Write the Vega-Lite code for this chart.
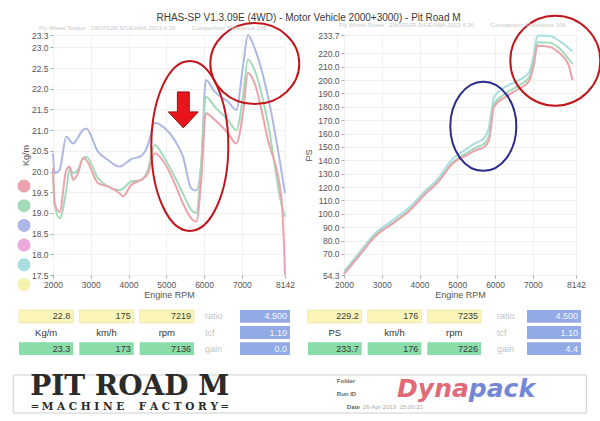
{
  "$schema": "https://vega.github.io/schema/vega-lite/v6.json",
  "background": "white",
  "padding": {"left": 12, "top": 11, "right": 5, "bottom": 3},
  "title": {"text": "RHAS-SP V1.3.09E (4WD) - Motor Vehicle 2000+3000) - Pit Road M", "fontSize": 10, "fontWeight": "normal", "color": "#3a3a3a", "anchor": "middle", "offset": -11},
  "config": {
    "font": "Liberation Sans",
    "view": {"stroke": null},
    "axis": {"labelFontSize": 8.5, "labelColor": "#555555", "labelOverlap": false, "labelFlush": false, "tickCount": 30, "titleFontSize": 9, "titleFontWeight": "normal", "titleColor": "#555555", "domain": false, "tickColor": "#aaaaaa", "tickSize": 3, "labelPadding": 2, "gridColor": "#f0f0f0"}
  },
  "datasets": {
    "torque": [
      {"run": "Run 3", "rpm": 2000, "kgm": 20.44}, {"run": "Run 3", "rpm": 2044, "kgm": 19.96}, {"run": "Run 3", "rpm": 2176, "kgm": 20.04}, {"run": "Run 3", "rpm": 2352, "kgm": 20.84}, {"run": "Run 3", "rpm": 2528, "kgm": 20.68}, {"run": "Run 3", "rpm": 2793, "kgm": 21.0}, {"run": "Run 3", "rpm": 2881, "kgm": 21.04}, {"run": "Run 3", "rpm": 3190, "kgm": 20.48}, {"run": "Run 3", "rpm": 3455, "kgm": 20.28}, {"run": "Run 3", "rpm": 3764, "kgm": 20.12}, {"run": "Run 3", "rpm": 4073, "kgm": 20.3}, {"run": "Run 3", "rpm": 4337, "kgm": 20.38}, {"run": "Run 3", "rpm": 4514, "kgm": 20.64}, {"run": "Run 3", "rpm": 4690, "kgm": 21.18}, {"run": "Run 3", "rpm": 4955, "kgm": 21.05}, {"run": "Run 3", "rpm": 5220, "kgm": 20.76}, {"run": "Run 3", "rpm": 5441, "kgm": 20.36}, {"run": "Run 3", "rpm": 5661, "kgm": 19.59}, {"run": "Run 3", "rpm": 5793, "kgm": 19.54}, {"run": "Run 3", "rpm": 5926, "kgm": 20.2}, {"run": "Run 3", "rpm": 6045, "kgm": 22.21}, {"run": "Run 3", "rpm": 6279, "kgm": 21.93}, {"run": "Run 3", "rpm": 6632, "kgm": 21.69}, {"run": "Run 3", "rpm": 6853, "kgm": 21.49}, {"run": "Run 3", "rpm": 7029, "kgm": 22.54}, {"run": "Run 3", "rpm": 7162, "kgm": 23.3}, {"run": "Run 3", "rpm": 7338, "kgm": 22.98}, {"run": "Run 3", "rpm": 7691, "kgm": 21.81}, {"run": "Run 3", "rpm": 7960, "kgm": 20.5}, {"run": "Run 3", "rpm": 8142, "kgm": 19.48},
      {"run": "Run 2", "rpm": 2000, "kgm": 20.04}, {"run": "Run 2", "rpm": 2044, "kgm": 19.2}, {"run": "Run 2", "rpm": 2176, "kgm": 18.87}, {"run": "Run 2", "rpm": 2352, "kgm": 19.55}, {"run": "Run 2", "rpm": 2440, "kgm": 20.08}, {"run": "Run 2", "rpm": 2528, "kgm": 19.96}, {"run": "Run 2", "rpm": 2660, "kgm": 20.04}, {"run": "Run 2", "rpm": 2793, "kgm": 20.32}, {"run": "Run 2", "rpm": 2881, "kgm": 20.36}, {"run": "Run 2", "rpm": 3190, "kgm": 19.84}, {"run": "Run 2", "rpm": 3455, "kgm": 19.64}, {"run": "Run 2", "rpm": 3764, "kgm": 19.55}, {"run": "Run 2", "rpm": 4073, "kgm": 19.76}, {"run": "Run 2", "rpm": 4337, "kgm": 19.8}, {"run": "Run 2", "rpm": 4514, "kgm": 20.04}, {"run": "Run 2", "rpm": 4690, "kgm": 20.64}, {"run": "Run 2", "rpm": 4955, "kgm": 20.32}, {"run": "Run 2", "rpm": 5220, "kgm": 19.88}, {"run": "Run 2", "rpm": 5441, "kgm": 19.47}, {"run": "Run 2", "rpm": 5661, "kgm": 19.07}, {"run": "Run 2", "rpm": 5793, "kgm": 19.0}, {"run": "Run 2", "rpm": 5926, "kgm": 20.2}, {"run": "Run 2", "rpm": 6045, "kgm": 21.81}, {"run": "Run 2", "rpm": 6279, "kgm": 21.57}, {"run": "Run 2", "rpm": 6632, "kgm": 21.25}, {"run": "Run 2", "rpm": 6853, "kgm": 21.0}, {"run": "Run 2", "rpm": 7029, "kgm": 21.81}, {"run": "Run 2", "rpm": 7162, "kgm": 22.71}, {"run": "Run 2", "rpm": 7338, "kgm": 22.45}, {"run": "Run 2", "rpm": 7691, "kgm": 21.17}, {"run": "Run 2", "rpm": 8043, "kgm": 19.23}, {"run": "Run 2", "rpm": 8142, "kgm": 18.91},
      {"run": "Run 1", "rpm": 2000, "kgm": 20.08}, {"run": "Run 1", "rpm": 2044, "kgm": 19.23}, {"run": "Run 1", "rpm": 2176, "kgm": 19.03}, {"run": "Run 1", "rpm": 2352, "kgm": 20.04}, {"run": "Run 1", "rpm": 2440, "kgm": 20.12}, {"run": "Run 1", "rpm": 2528, "kgm": 19.8}, {"run": "Run 1", "rpm": 2660, "kgm": 19.96}, {"run": "Run 1", "rpm": 2793, "kgm": 20.32}, {"run": "Run 1", "rpm": 2881, "kgm": 20.28}, {"run": "Run 1", "rpm": 3190, "kgm": 19.72}, {"run": "Run 1", "rpm": 3455, "kgm": 19.64}, {"run": "Run 1", "rpm": 3764, "kgm": 19.47}, {"run": "Run 1", "rpm": 3850, "kgm": 19.4}, {"run": "Run 1", "rpm": 4073, "kgm": 19.68}, {"run": "Run 1", "rpm": 4337, "kgm": 19.8}, {"run": "Run 1", "rpm": 4514, "kgm": 19.96}, {"run": "Run 1", "rpm": 4690, "kgm": 20.44}, {"run": "Run 1", "rpm": 4955, "kgm": 20.2}, {"run": "Run 1", "rpm": 5220, "kgm": 19.72}, {"run": "Run 1", "rpm": 5441, "kgm": 19.23}, {"run": "Run 1", "rpm": 5661, "kgm": 18.87}, {"run": "Run 1", "rpm": 5793, "kgm": 18.79}, {"run": "Run 1", "rpm": 5926, "kgm": 19.8}, {"run": "Run 1", "rpm": 6045, "kgm": 21.41}, {"run": "Run 1", "rpm": 6279, "kgm": 21.25}, {"run": "Run 1", "rpm": 6632, "kgm": 20.93}, {"run": "Run 1", "rpm": 6853, "kgm": 20.68}, {"run": "Run 1", "rpm": 7029, "kgm": 21.41}, {"run": "Run 1", "rpm": 7162, "kgm": 22.39}, {"run": "Run 1", "rpm": 7338, "kgm": 22.13}, {"run": "Run 1", "rpm": 7691, "kgm": 20.76}, {"run": "Run 1", "rpm": 8043, "kgm": 19.39}, {"run": "Run 1", "rpm": 8120, "kgm": 18.1}, {"run": "Run 1", "rpm": 8142, "kgm": 17.5}
    ],
    "power": [
      {"run": "Run 5", "rpm": 2000, "ps": 57.0}, {"run": "Run 5", "rpm": 2396, "ps": 70.7}, {"run": "Run 5", "rpm": 2837, "ps": 85.7}, {"run": "Run 5", "rpm": 3278, "ps": 95.0}, {"run": "Run 5", "rpm": 3719, "ps": 104.5}, {"run": "Run 5", "rpm": 4160, "ps": 117.5}, {"run": "Run 5", "rpm": 4513, "ps": 127.0}, {"run": "Run 5", "rpm": 4779, "ps": 138.0}, {"run": "Run 5", "rpm": 4954, "ps": 143.0}, {"run": "Run 5", "rpm": 5219, "ps": 148.0}, {"run": "Run 5", "rpm": 5484, "ps": 153.0}, {"run": "Run 5", "rpm": 5705, "ps": 156.5}, {"run": "Run 5", "rpm": 5837, "ps": 164.5}, {"run": "Run 5", "rpm": 5970, "ps": 187.0}, {"run": "Run 5", "rpm": 6279, "ps": 195.0}, {"run": "Run 5", "rpm": 6632, "ps": 200.0}, {"run": "Run 5", "rpm": 6897, "ps": 205.7}, {"run": "Run 5", "rpm": 7029, "ps": 219.5}, {"run": "Run 5", "rpm": 7118, "ps": 233.2}, {"run": "Run 5", "rpm": 7427, "ps": 233.2}, {"run": "Run 5", "rpm": 7692, "ps": 229.5}, {"run": "Run 5", "rpm": 8045, "ps": 221.5},
      {"run": "Run 2", "rpm": 2000, "ps": 55.5}, {"run": "Run 2", "rpm": 2396, "ps": 69.0}, {"run": "Run 2", "rpm": 2837, "ps": 84.0}, {"run": "Run 2", "rpm": 3278, "ps": 93.0}, {"run": "Run 2", "rpm": 3719, "ps": 102.5}, {"run": "Run 2", "rpm": 4160, "ps": 115.5}, {"run": "Run 2", "rpm": 4513, "ps": 125.0}, {"run": "Run 2", "rpm": 4866, "ps": 138.0}, {"run": "Run 2", "rpm": 5219, "ps": 145.0}, {"run": "Run 2", "rpm": 5484, "ps": 149.5}, {"run": "Run 2", "rpm": 5705, "ps": 152.5}, {"run": "Run 2", "rpm": 5837, "ps": 158.0}, {"run": "Run 2", "rpm": 5970, "ps": 182.0}, {"run": "Run 2", "rpm": 6279, "ps": 190.0}, {"run": "Run 2", "rpm": 6632, "ps": 196.0}, {"run": "Run 2", "rpm": 6897, "ps": 202.0}, {"run": "Run 2", "rpm": 7029, "ps": 215.0}, {"run": "Run 2", "rpm": 7118, "ps": 228.2}, {"run": "Run 2", "rpm": 7427, "ps": 228.0}, {"run": "Run 2", "rpm": 7692, "ps": 224.0}, {"run": "Run 2", "rpm": 8045, "ps": 212.0},
      {"run": "Run 1", "rpm": 2000, "ps": 55.0}, {"run": "Run 1", "rpm": 2396, "ps": 68.5}, {"run": "Run 1", "rpm": 2837, "ps": 83.5}, {"run": "Run 1", "rpm": 3278, "ps": 92.5}, {"run": "Run 1", "rpm": 3719, "ps": 102.0}, {"run": "Run 1", "rpm": 4160, "ps": 115.0}, {"run": "Run 1", "rpm": 4513, "ps": 124.5}, {"run": "Run 1", "rpm": 4866, "ps": 137.5}, {"run": "Run 1", "rpm": 5219, "ps": 143.5}, {"run": "Run 1", "rpm": 5484, "ps": 147.5}, {"run": "Run 1", "rpm": 5705, "ps": 150.0}, {"run": "Run 1", "rpm": 5837, "ps": 155.0}, {"run": "Run 1", "rpm": 5970, "ps": 180.0}, {"run": "Run 1", "rpm": 6279, "ps": 187.5}, {"run": "Run 1", "rpm": 6632, "ps": 193.5}, {"run": "Run 1", "rpm": 6897, "ps": 199.0}, {"run": "Run 1", "rpm": 7029, "ps": 212.0}, {"run": "Run 1", "rpm": 7118, "ps": 225.7}, {"run": "Run 1", "rpm": 7427, "ps": 225.0}, {"run": "Run 1", "rpm": 7692, "ps": 220.5}, {"run": "Run 1", "rpm": 7950, "ps": 211.0}, {"run": "Run 1", "rpm": 8045, "ps": 200.0}
    ]
  },
  "concat": [
    {
      "concat": [
        {
          "hconcat": [
            {
              "width": 232, "height": 240,
              "title": {"text": "Fly Wheel Torque : 2W1F02R,S/GEAWA,2013.4.26 \u00a0 \u00a0 \u00a0 \u00a0 \u00a0Comparison: Reference 106", "fontSize": 6, "color": "#c8c8c8", "fontWeight": "normal", "anchor": "start", "frame": "group", "dx": -14, "offset": -12},
              "layer": [
                {
                  "data": {"name": "torque"},
                  "mark": {"type": "line", "strokeWidth": 2, "interpolate": "monotone"},
                  "encoding": {
                    "x": {"field": "rpm", "type": "quantitative", "scale": {"domain": [2000, 8142], "nice": false, "zero": false}, "axis": {"values": [2000, 3000, 4000, 5000, 6000, 7000, 8142], "format": "d", "title": "Engine RPM", "titlePadding": 2, "labelOverlap": false, "labelFlush": false, "tickCount": 30}},
                    "y": {"field": "kgm", "type": "quantitative", "scale": {"domain": [17.5, 23.3], "nice": false, "zero": false}, "axis": {"values": [17.5, 18, 18.5, 19, 19.5, 20, 20.5, 21, 21.5, 22, 22.5, 23, 23.3], "format": ".1f", "title": "Kg/m", "titlePadding": 1, "labelOverlap": false, "labelFlush": false, "tickCount": 30}},
                    "color": {"field": "run", "type": "nominal", "scale": {"domain": ["Run 1", "Run 2", "Run 3", "Run 4", "Run 5", "Run 6"], "range": ["#eba3ab", "#a3dbb9", "#adb8e4", "#eca9dc", "#a9dde2", "#f5f2b0"]},
                      "legend": {"title": null, "orient": "none", "legendX": -36, "legendY": 144, "symbolType": "circle", "symbolSize": 170, "symbolStrokeWidth": 0, "labelExpr": "''", "labelFontSize": 1, "rowPadding": 5.7, "encode": {"symbols": {"update": {"fill": {"scale": "color", "field": "value"}, "opacity": {"value": 1}}}}}}
                  }
                },
                {
                  "data": {"values": [{"rpm": 5622, "kgm": 20.62}]},
                  "mark": {"type": "point", "shape": "M 0.453 0 C 0.453 0.552 0.25 1 0 1 C -0.25 1 -0.453 0.552 -0.453 0 C -0.453 -0.552 -0.25 -1 0 -1 C 0.25 -1 0.453 -0.552 0.453 0 Z", "size": 28900, "filled": false, "color": "#c0161c", "strokeWidth": 2, "opacity": 1},
                  "encoding": {"x": {"field": "rpm", "type": "quantitative"}, "y": {"field": "kgm", "type": "quantitative"}}
                },
                {
                  "data": {"values": [{"rpm": 7342, "kgm": 22.61}]},
                  "mark": {"type": "point", "shape": "M 1 0 C 1 0.5 0.552 0.91 0 0.91 C -0.552 0.91 -1 0.5 -1 0 C -1 -0.5 -0.552 -0.91 0 -0.91 C 0.552 -0.91 1 -0.5 1 0 Z", "size": 7921, "filled": false, "color": "#c0161c", "strokeWidth": 2, "opacity": 1},
                  "encoding": {"x": {"field": "rpm", "type": "quantitative"}, "y": {"field": "kgm", "type": "quantitative"}}
                },
                {
                  "data": {"values": [{"rpm": 5450, "kgm": 21.49}]},
                  "mark": {"type": "point", "shape": "M -0.33 -1 L 0.33 -1 L 0.33 0.11 L 0.83 0.11 L 0 1 L -0.83 0.11 L -0.33 0.11 Z", "size": 1296, "filled": true, "fill": "#e8161c", "stroke": "#9a1010", "strokeWidth": 1, "opacity": 1},
                  "encoding": {"x": {"field": "rpm", "type": "quantitative"}, "y": {"field": "kgm", "type": "quantitative"}}
                }
              ]
            },
            {
              "width": 232, "height": 240,
              "title": {"text": "Fly Wheel Power : 2W1F02R,S/GEAWA,2013.4.26 \u00a0 \u00a0 \u00a0 \u00a0 \u00a0Comparison: Reference 106", "fontSize": 6, "color": "#c8c8c8", "fontWeight": "normal", "anchor": "start", "frame": "group", "dx": -5, "offset": -16},
              "layer": [
                {
                  "data": {"name": "power"},
                  "mark": {"type": "line", "strokeWidth": 2, "interpolate": "monotone"},
                  "encoding": {
                    "x": {"field": "rpm", "type": "quantitative", "scale": {"domain": [2000, 8142], "nice": false, "zero": false}, "axis": {"values": [2000, 3000, 4000, 5000, 6000, 7000, 8142], "format": "d", "title": "Engine RPM", "titlePadding": 2, "labelOverlap": false, "labelFlush": false, "tickCount": 30}},
                    "y": {"field": "ps", "type": "quantitative", "scale": {"domain": [54.3, 233.7], "nice": false, "zero": false}, "axis": {"values": [54.3, 70, 80, 90, 100, 110, 120, 130, 140, 150, 160, 170, 180, 190, 200, 210, 220, 233.7], "format": ".1f", "title": "PS", "titlePadding": 4, "labelOverlap": false, "labelFlush": false, "tickCount": 30}},
                    "color": {"field": "run", "type": "nominal", "scale": {"domain": ["Run 1", "Run 2", "Run 3", "Run 4", "Run 5", "Run 6"], "range": ["#eba3ab", "#a3dbb9", "#adb8e4", "#eca9dc", "#a9dde2", "#f5f2b0"]},
                      "legend": {"title": null, "orient": "none", "legendX": -36, "legendY": 144, "symbolType": "circle", "symbolSize": 170, "symbolStrokeWidth": 0, "labelExpr": "''", "labelFontSize": 1, "rowPadding": 5.7, "encode": {"symbols": {"update": {"fill": {"scale": "color", "field": "value"}, "opacity": {"value": 1}}}}}}
                  }
                },
                {
                  "data": {"values": [{"rpm": 7594, "ps": 214.5}]},
                  "mark": {"type": "point", "shape": "M 1 0 C 1 0.552 0.552 1 0 1 C -0.552 1 -1 0.552 -1 0 C -1 -0.552 -0.552 -1 0 -1 C 0.552 -1 1 -0.552 1 0 Z", "size": 8100, "filled": false, "color": "#c0161c", "strokeWidth": 2, "opacity": 1},
                  "encoding": {"x": {"field": "rpm", "type": "quantitative"}, "y": {"field": "ps", "type": "quantitative"}}
                },
                {
                  "data": {"values": [{"rpm": 5688, "ps": 165.4}]},
                  "mark": {"type": "point", "shape": "M 0.742 0 C 0.742 0.552 0.41 1 0 1 C -0.41 1 -0.742 0.552 -0.742 0 C -0.742 -0.552 -0.41 -1 0 -1 C 0.41 -1 0.742 -0.552 0.742 0 Z", "size": 7921, "filled": false, "color": "#2c2c8c", "strokeWidth": 2, "opacity": 1},
                  "encoding": {"x": {"field": "rpm", "type": "quantitative"}, "y": {"field": "ps", "type": "quantitative"}}
                }
              ]
            }
          ],
          "spacing": 0
        },
        {
          "hconcat": [
            {
              "hconcat": [
                {
                  "width": 141, "height": 45,
                  "data": {"values": [
                    {"row": "top", "col": "c1", "text": "22.8"}, {"row": "top", "col": "c2", "text": "175"}, {"row": "top", "col": "c3", "text": "7219"},
                    {"row": "mid", "col": "c1", "text": "Kg/m"}, {"row": "mid", "col": "c2", "text": "km/h"}, {"row": "mid", "col": "c3", "text": "rpm"},
                    {"row": "bot", "col": "c1", "text": "23.3"}, {"row": "bot", "col": "c2", "text": "173"}, {"row": "bot", "col": "c3", "text": "7136"}
                  ]},
                  "encoding": {
                    "x": {"field": "col", "type": "nominal", "scale": {"domain": ["c1", "c2", "c3"], "range": [-34, 141], "paddingInner": 0.1, "paddingOuter": 0}, "axis": null},
                    "y": {"field": "row", "type": "nominal", "scale": {"domain": ["top", "mid", "bot"], "paddingInner": 0.2, "paddingOuter": 0}, "axis": null}
                  },
                  "layer": [
                    {"transform": [{"filter": "datum.row == 'top'"}], "mark": {"type": "rect", "color": "#fbf6b8", "stroke": "#e4dc98", "strokeWidth": 0.6}},
                    {"transform": [{"filter": "datum.row == 'bot'"}], "mark": {"type": "rect", "color": "#8adca8"}},
                    {"transform": [{"filter": "datum.row != 'mid'"}], "mark": {"type": "text", "align": "right", "dx": -3, "fontSize": 9, "color": "#3a3a3a"}, "encoding": {"x": {"field": "col", "type": "nominal", "bandPosition": 1}, "text": {"field": "text"}}},
                    {"transform": [{"filter": "datum.row == 'mid'"}], "mark": {"type": "text", "align": "center", "fontSize": 9.5, "color": "#333333"}, "encoding": {"text": {"field": "text"}}}
                  ]
                },
                {
                  "width": 50, "height": 45,
                  "data": {"values": [
                    {"row": "top", "col": "box", "label": "ratio", "text": "4.500"},
                    {"row": "mid", "col": "box", "label": "tcf", "text": "1.10"},
                    {"row": "bot", "col": "box", "label": "gain", "text": "0.0"}
                  ]},
                  "encoding": {
                    "x": {"field": "col", "type": "nominal", "scale": {"domain": ["box"], "paddingInner": 0, "paddingOuter": 0}, "axis": null},
                    "y": {"field": "row", "type": "nominal", "scale": {"domain": ["top", "mid", "bot"], "paddingInner": 0.2, "paddingOuter": 0}, "axis": null}
                  },
                  "layer": [
                    {"mark": {"type": "rect", "color": "#93abe4"}},
                    {"mark": {"type": "text", "align": "right", "dx": -3, "fontSize": 9, "color": "#f4f6ff"}, "encoding": {"x": {"field": "col", "type": "nominal", "bandPosition": 1}, "text": {"field": "text"}}},
                    {"mark": {"type": "text", "align": "left", "dx": -35, "fontSize": 9, "color": "#c4c4c4"}, "encoding": {"x": {"field": "col", "type": "nominal", "bandPosition": 0}, "text": {"field": "label"}}}
                  ]
                }
              ],
              "spacing": 10
            },
            {
              "hconcat": [
                {
                  "width": 173, "height": 45,
                  "data": {"values": [
                    {"row": "top", "col": "c1", "text": "229.2"}, {"row": "top", "col": "c2", "text": "176"}, {"row": "top", "col": "c3", "text": "7235"},
                    {"row": "mid", "col": "c1", "text": "PS"}, {"row": "mid", "col": "c2", "text": "km/h"}, {"row": "mid", "col": "c3", "text": "rpm"},
                    {"row": "bot", "col": "c1", "text": "233.7"}, {"row": "bot", "col": "c2", "text": "176"}, {"row": "bot", "col": "c3", "text": "7226"}
                  ]},
                  "encoding": {
                    "x": {"field": "col", "type": "nominal", "scale": {"domain": ["c1", "c2", "c3"], "paddingInner": 0.1, "paddingOuter": 0}, "axis": null},
                    "y": {"field": "row", "type": "nominal", "scale": {"domain": ["top", "mid", "bot"], "paddingInner": 0.2, "paddingOuter": 0}, "axis": null}
                  },
                  "layer": [
                    {"transform": [{"filter": "datum.row == 'top'"}], "mark": {"type": "rect", "color": "#fbf6b8", "stroke": "#e4dc98", "strokeWidth": 0.6}},
                    {"transform": [{"filter": "datum.row == 'bot'"}], "mark": {"type": "rect", "color": "#8adca8"}},
                    {"transform": [{"filter": "datum.row != 'mid'"}], "mark": {"type": "text", "align": "right", "dx": -3, "fontSize": 9, "color": "#3a3a3a"}, "encoding": {"x": {"field": "col", "type": "nominal", "bandPosition": 1}, "text": {"field": "text"}}},
                    {"transform": [{"filter": "datum.row == 'mid'"}], "mark": {"type": "text", "align": "center", "fontSize": 9.5, "color": "#333333"}, "encoding": {"text": {"field": "text"}}}
                  ]
                },
                {
                  "width": 54, "height": 45,
                  "data": {"values": [
                    {"row": "top", "col": "box", "label": "ratio", "text": "4.500"},
                    {"row": "mid", "col": "box", "label": "tcf", "text": "1.10"},
                    {"row": "bot", "col": "box", "label": "gain", "text": "4.4"}
                  ]},
                  "encoding": {
                    "x": {"field": "col", "type": "nominal", "scale": {"domain": ["box"], "paddingInner": 0, "paddingOuter": 0}, "axis": null},
                    "y": {"field": "row", "type": "nominal", "scale": {"domain": ["top", "mid", "bot"], "paddingInner": 0.2, "paddingOuter": 0}, "axis": null}
                  },
                  "layer": [
                    {"mark": {"type": "rect", "color": "#93abe4"}},
                    {"mark": {"type": "text", "align": "right", "dx": -3, "fontSize": 9, "color": "#f4f6ff"}, "encoding": {"x": {"field": "col", "type": "nominal", "bandPosition": 1}, "text": {"field": "text"}}},
                    {"mark": {"type": "text", "align": "left", "dx": -30, "fontSize": 9, "color": "#c4c4c4"}, "encoding": {"x": {"field": "col", "type": "nominal", "bandPosition": 0}, "text": {"field": "label"}}}
                  ]
                }
              ],
              "spacing": 15
            }
          ],
          "spacing": 17
        }
      ],
      "columns": 1,
      "spacing": 9,
      "align": "none"
    },
    {
      "width": 533, "height": 38,
      "layer": [
        {
          "data": {"values": [{"part": "frame"}]},
          "mark": {"type": "rect", "fill": "transparent", "stroke": "#cfcfcf", "strokeWidth": 1},
          "encoding": {"x": {"field": "part", "type": "nominal", "scale": {"domain": ["frame"], "range": [-39.7, 533.3], "paddingInner": 0, "paddingOuter": 0}, "axis": null}}
        },
        {
          "encoding": {
            "x": {"field": "slot", "type": "nominal", "scale": {"domain": ["logo", "meta", "brand"], "range": [-39.7, 533.3], "paddingInner": 0, "paddingOuter": 0}, "axis": null},
            "y": {"field": "line", "type": "nominal", "scale": {"type": "point", "domain": ["l1", "l2", "l3"], "padding": 0.5}, "axis": null}
          },
          "layer": [
            {"data": {"values": [{"slot": "logo", "line": "l2", "text": "PIT ROAD M"}]}, "mark": {"type": "text", "font": "DejaVu Serif", "fontWeight": "bold", "fontSize": 28, "color": "#2b2b2b", "align": "center", "baseline": "middle", "dx": 21, "dy": -7}, "encoding": {"text": {"field": "text"}}},
            {"data": {"values": [{"slot": "logo", "line": "l3", "text": "═ M A C H I N E \u00a0 \u00a0F A C T O R Y ═"}]}, "mark": {"type": "text", "font": "DejaVu Serif", "fontWeight": "bold", "fontSize": 10.5, "color": "#2b2b2b", "align": "center", "baseline": "middle", "dx": 21, "dy": 0}, "encoding": {"text": {"field": "text"}}},
            {"data": {"values": [{"slot": "meta", "line": "l1", "text": "Folder"}, {"slot": "meta", "line": "l2", "text": "Run ID"}]}, "mark": {"type": "text", "fontWeight": "bold", "fontSize": 6, "color": "#666666", "align": "left", "baseline": "middle", "dx": 37}, "encoding": {"x": {"field": "slot", "type": "nominal", "bandPosition": 0}, "text": {"field": "text"}}},
            {"data": {"values": [{"slot": "meta", "line": "l3", "text": "Date"}]}, "mark": {"type": "text", "fontWeight": "bold", "fontSize": 6, "color": "#666666", "align": "left", "baseline": "middle", "dx": 47}, "encoding": {"x": {"field": "slot", "type": "nominal", "bandPosition": 0}, "text": {"field": "text"}}},
            {"data": {"values": [{"slot": "meta", "line": "l3", "text": "26-Apr-2013 \u00a015:00:21"}]}, "mark": {"type": "text", "fontSize": 6, "color": "#aaaaaa", "align": "left", "baseline": "middle", "dx": 63}, "encoding": {"x": {"field": "slot", "type": "nominal", "bandPosition": 0}, "text": {"field": "text"}}},
            {"data": {"values": [{"slot": "brand", "line": "l2", "text": "Dyna"}]}, "mark": {"type": "text", "font": "DejaVu Sans", "fontWeight": "bold", "fontStyle": "italic", "fontSize": 25, "color": "#e26a78", "align": "right", "baseline": "middle", "dx": -22, "dy": -5}, "encoding": {"text": {"field": "text"}}},
            {"data": {"values": [{"slot": "brand", "line": "l2", "text": "pack"}]}, "mark": {"type": "text", "font": "DejaVu Sans", "fontWeight": "bold", "fontStyle": "italic", "fontSize": 25, "color": "#7287d6", "align": "left", "baseline": "middle", "dx": -22, "dy": -5}, "encoding": {"text": {"field": "text"}}}
          ]
        }
      ],
      "resolve": {"scale": {"x": "independent"}}
    }
  ],
  "columns": 1,
  "spacing": 18,
  "align": "none"
}
